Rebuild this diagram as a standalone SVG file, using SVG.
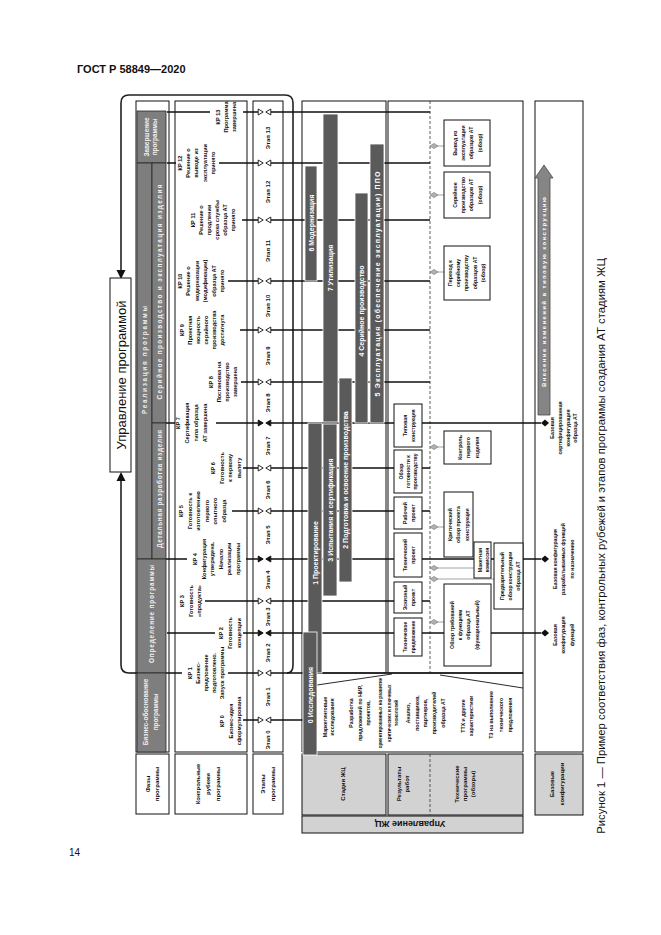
<svg xmlns="http://www.w3.org/2000/svg" width="661" height="935" viewBox="0 0 661 935">
<style>
text{font-family:"Liberation Sans",Arial,sans-serif;font-weight:bold;fill:#111}
.s{font-size:5.6px}
.t{font-size:5.2px}
.pt{fill:#f2f2f2;font-size:6.4px}
.bt{fill:#fff;font-size:7px}
.lb{font-size:6px}
.bx{fill:#fff;stroke:#111;stroke-width:1}
.gb{fill:#d2d2d2;stroke:#111;stroke-width:1}
.fr{fill:none;stroke:#111;stroke-width:1}
.bar{fill:#5a5a5a;stroke:#fff;stroke-width:0.8}
.pr{fill:#7e7e7e;stroke:#262626;stroke-width:0.8}
.kp{stroke:#111;stroke-width:1.7;fill:none}
.lp{stroke:#222;stroke-width:1.6;fill:none}
.ln{stroke:#8c8c8c;stroke-width:0.8;fill:none}
.ds{stroke:#333;stroke-width:0.8;stroke-dasharray:3 2;fill:none}
.to{fill:#fff;stroke:#111;stroke-width:0.9}
.tf{fill:#111;stroke:#111;stroke-width:0.9}
.dg{fill:#b0b0b0;stroke:#777;stroke-width:0.6}
.db{fill:#111}
</style>
<defs>
<path id="tR" d="M-2.3,-3 L2.7,0 L-2.3,3Z"/>
<path id="tL" d="M2.3,-3 L-2.7,0 L2.3,3Z"/>
<path id="dmg" d="M-4,0 L0,-2.6 L4,0 L0,2.6Z"/>
<path id="dmb" d="M-4,0 L0,-3.5 L4,0 L0,3.5Z"/>
</defs>
<rect width="661" height="935" fill="#fff"/>
<text x="77" y="73" style="font-size:11px">ГОСТ Р 58849—2020</text>
<text x="69" y="856" style="font-size:10px;font-weight:normal">14</text>
<text transform="translate(605,546) rotate(-90)" text-anchor="middle" style="font-size:11.3px;font-weight:normal">Рисунок 1 — Пример соответствия фаз, контрольных рубежей и этапов программы создания АТ стадиям ЖЦ</text>

<g id="frames">
<rect class="fr" x="136" y="101" width="33" height="651"/>
<rect class="fr" x="175" y="101" width="72" height="651"/>
<rect class="fr" x="253" y="101" width="30" height="651"/>
<rect class="fr" x="302" y="101" width="84" height="572"/>
<rect class="fr" x="388" y="101" width="135" height="572"/>
<path class="fr" d="M302 673 V752 H523 V673"/>
<rect class="fr" x="535" y="101" width="48" height="651"/>
<path class="ds" d="M430 101 V673 M430 754 V815"/>
<path fill="none" stroke="#111" stroke-width="0.9" d="M317 685 L392 674 M440 675 L523 688"/>
</g>

<g id="label-boxes">
<rect class="bx" x="136" y="754" width="33" height="60"/>
<text class="lb" transform="translate(150,784) rotate(-90)" text-anchor="middle"><tspan x="0">Фазы</tspan><tspan x="0" dy="9">программы</tspan></text>
<rect class="bx" x="175" y="754" width="72" height="60"/>
<text class="lb" transform="translate(200,784) rotate(-90)" text-anchor="middle"><tspan x="0">Контрольные</tspan><tspan x="0" dy="10">рубежи</tspan><tspan x="0" dy="10">программы</tspan></text>
<rect class="bx" x="253" y="754" width="30" height="60"/>
<text class="lb" transform="translate(265,784) rotate(-90)" text-anchor="middle"><tspan x="0">Этапы</tspan><tspan x="0" dy="9.5">программы</tspan></text>
<rect class="gb" x="302" y="754" width="84" height="61"/>
<text class="lb" transform="translate(345,784) rotate(-90)" text-anchor="middle">Стадии ЖЦ</text>
<rect class="gb" x="388" y="754" width="135" height="61"/>
<path class="ds" d="M430 754 V815"/>
<text class="lb" transform="translate(401,784) rotate(-90)" text-anchor="middle"><tspan x="0">Результаты</tspan><tspan x="0" dy="8">работ</tspan></text>
<text class="lb" transform="translate(459,784) rotate(-90)" text-anchor="middle"><tspan x="0">Технические</tspan><tspan x="0" dy="8">программы</tspan><tspan x="0" dy="8">(обзоры)</tspan></text>
<rect class="gb" x="302" y="816" width="221" height="17"/>
<text transform="translate(410,821) rotate(180)" text-anchor="middle" style="font-size:9px">Управление ЖЦ</text>
<rect class="gb" x="535" y="754" width="48" height="61"/>
<text class="lb" transform="translate(554,784) rotate(-90)" text-anchor="middle"><tspan x="0">Базовые</tspan><tspan x="0" dy="10">конфигурации</tspan></text>
</g>

<g id="connectors">
<path class="lp" d="M129 673 Q121 673 121 665 V480"/>
<path class="lp" d="M287 673 Q293 673 293 665 V103 Q293 95 285 95 H129 Q121 95 121 103 V270"/>
<polygon points="121,472 116.5,481 125.5,481" fill="#111"/>
<polygon points="121,279 116.5,270 125.5,270" fill="#111"/>
<path class="kp" d="M167 112H210 M243 112H258 M271 112H430"/>
<path class="kp" d="M167 163H176 M219 163H258 M271 163H430"/>
<path class="kp" d="M242 220H258 M271 220H430"/>
<path class="kp" d="M228 281H258 M271 281H430"/>
<path class="kp" d="M240 330H258 M271 330H430"/>
<path class="kp" d="M241 382H258 M271 382H430"/>
<path class="kp" d="M152 423H175 M216 423H258 M271 423H541"/>
<path class="kp" d="M243 468H258 M271 468H430"/>
<path class="kp" d="M232 511H258 M271 511H430"/>
<path class="kp" d="M137 559H187 M246 559H258 M271 559H541"/>
<path class="kp" d="M205 601H258 M271 601H430"/>
<path class="kp" d="M167 633H215 M243 633H258 M271 633H541"/>
<path class="kp" d="M129 673H182 M228 673H258 M271 673H523"/>
<path class="kp" d="M243 720H258 M271 720H304"/>
<path class="ln" d="M434 146H444 M434 195H444 M434 272H444 M434 447H444 M434 527H444 M434 568H474 M434 579H494 M434 622H444"/>
<g class="to">
<use href="#tR" x="260.5" y="112"/><use href="#tL" x="268.5" y="112"/>
<use href="#tR" x="260.5" y="163"/><use href="#tL" x="268.5" y="163"/>
<use href="#tR" x="260.5" y="220"/><use href="#tL" x="268.5" y="220"/>
<use href="#tR" x="260.5" y="281"/><use href="#tL" x="268.5" y="281"/>
<use href="#tR" x="260.5" y="330"/><use href="#tL" x="268.5" y="330"/>
<use href="#tR" x="260.5" y="382"/><use href="#tL" x="268.5" y="382"/>
<use href="#tR" x="260.5" y="468"/><use href="#tL" x="268.5" y="468"/>
<use href="#tR" x="260.5" y="511"/><use href="#tL" x="268.5" y="511"/>
<use href="#tR" x="260.5" y="601"/><use href="#tL" x="268.5" y="601"/>
<use href="#tR" x="260.5" y="673"/><use href="#tL" x="268.5" y="673"/>
<use href="#tR" x="260.5" y="720"/><use href="#tL" x="268.5" y="720"/>
</g>
<g class="tf">
<use href="#tR" x="260.5" y="423"/><use href="#tL" x="268.5" y="423"/>
<use href="#tR" x="260.5" y="559"/><use href="#tL" x="268.5" y="559"/>
<use href="#tR" x="260.5" y="633"/><use href="#tL" x="268.5" y="633"/>
</g>
<g class="dg">
<use href="#dmg" x="434" y="146"/><use href="#dmg" x="434" y="195"/><use href="#dmg" x="434" y="272"/>
<use href="#dmg" x="434" y="447"/><use href="#dmg" x="434" y="527"/><use href="#dmg" x="434" y="568"/>
<use href="#dmg" x="434" y="579"/><use href="#dmg" x="434" y="622"/>
</g>
<g class="db">
<use href="#dmb" x="545" y="423"/><use href="#dmb" x="545" y="559"/><use href="#dmb" x="545" y="633"/>
</g>
</g>

<g id="program-management">
<rect class="bx" x="110" y="278" width="21" height="194"/>
<text transform="translate(126,375) rotate(-90)" text-anchor="middle" style="font-size:13px;font-weight:normal">Управление программой</text>
</g>

<g id="phases">
<rect class="pr" x="137" y="111" width="29" height="52"/>
<text class="pt" transform="translate(149,137) rotate(-90)" text-anchor="middle"><tspan x="0">Завершение</tspan><tspan x="0" dy="8">программы</tspan></text>
<rect class="pr" x="137" y="163" width="15" height="396"/>
<text class="pt" transform="translate(147,360) rotate(-90)" text-anchor="middle" textLength="108" lengthAdjust="spacing">Реализация программы</text>
<rect class="pr" x="152" y="163" width="14" height="260"/>
<text class="pt" transform="translate(161.5,292) rotate(-90)" text-anchor="middle" textLength="215" lengthAdjust="spacing">Серийное производство и эксплуатация изделия</text>
<rect class="pr" x="152" y="423" width="14" height="136"/>
<text class="pt" transform="translate(161.5,489) rotate(-90)" text-anchor="middle" textLength="118" lengthAdjust="spacing">Детальная разработка изделия</text>
<rect class="pr" x="137" y="559" width="29" height="114"/>
<text class="pt" transform="translate(153.5,614) rotate(-90)" text-anchor="middle" textLength="98" lengthAdjust="spacing">Определение программы</text>
<rect class="pr" x="137" y="673" width="29" height="79"/>
<text class="pt" transform="translate(148,712) rotate(-90)" text-anchor="middle"><tspan x="0">Бизнес-обоснование</tspan><tspan x="0" dy="10">программы</tspan></text>
</g>

<g id="kp-labels" class="s">
<text transform="translate(220,117) rotate(-90)" text-anchor="middle"><tspan x="0">КР 13</tspan><tspan x="0" dy="8">Программа</tspan><tspan x="0" dy="8">завершена</tspan></text>
<text transform="translate(182,163) rotate(-90)" text-anchor="middle"><tspan x="0">КР 12</tspan><tspan x="0" dy="8.2">Решение о</tspan><tspan x="0" dy="8.2">выводе из</tspan><tspan x="0" dy="8.2">эксплуатации</tspan><tspan x="0" dy="8.2">принято</tspan></text>
<text transform="translate(195,220) rotate(-90)" text-anchor="middle"><tspan x="0">КР 11</tspan><tspan x="0" dy="8">Решение о</tspan><tspan x="0" dy="8">продлении</tspan><tspan x="0" dy="8">срока службы</tspan><tspan x="0" dy="8">образца АТ</tspan><tspan x="0" dy="8">принято</tspan></text>
<text transform="translate(182,281) rotate(-90)" text-anchor="middle"><tspan x="0">КР 10</tspan><tspan x="0" dy="8.4">Решение о</tspan><tspan x="0" dy="8.4">модернизации</tspan><tspan x="0" dy="8.4">(модификации)</tspan><tspan x="0" dy="8.4">образца АТ</tspan><tspan x="0" dy="8.4">принято</tspan></text>
<text transform="translate(184,330) rotate(-90)" text-anchor="middle"><tspan x="0">КР 9</tspan><tspan x="0" dy="8">Проектная</tspan><tspan x="0" dy="8">мощность</tspan><tspan x="0" dy="8">серийного</tspan><tspan x="0" dy="8">производства</tspan><tspan x="0" dy="8">достигнута</tspan></text>
<text transform="translate(213,382) rotate(-90)" text-anchor="middle"><tspan x="0">КР 8</tspan><tspan x="0" dy="8">Постановка на</tspan><tspan x="0" dy="8">производство</tspan><tspan x="0" dy="8">завершена</tspan></text>
<text transform="translate(180,423) rotate(-90)" text-anchor="middle"><tspan x="0">КР 7</tspan><tspan x="0" dy="9">Сертификация</tspan><tspan x="0" dy="9">типа образца</tspan><tspan x="0" dy="9">АТ завершена</tspan></text>
<text transform="translate(215,468) rotate(-90)" text-anchor="middle"><tspan x="0">КР 6</tspan><tspan x="0" dy="8.5">Готовность</tspan><tspan x="0" dy="8.5">к первому</tspan><tspan x="0" dy="8.5">вылету</tspan></text>
<text transform="translate(183,511) rotate(-90)" text-anchor="middle"><tspan x="0">КР 5</tspan><tspan x="0" dy="8.5">Готовность к</tspan><tspan x="0" dy="8.5">изготовлению</tspan><tspan x="0" dy="8.5">первого</tspan><tspan x="0" dy="8.5">опытного</tspan><tspan x="0" dy="8.5">образца</tspan></text>
<text transform="translate(197,559) rotate(-90)" text-anchor="middle"><tspan x="0">КР 4</tspan><tspan x="0" dy="8.6">Конфигурация</tspan><tspan x="0" dy="8.6">утверждена.</tspan><tspan x="0" dy="8.6">Начало</tspan><tspan x="0" dy="8.6">реализации</tspan><tspan x="0" dy="8.6">программы</tspan></text>
<text transform="translate(184,601) rotate(-90)" text-anchor="middle"><tspan x="0">КР 3</tspan><tspan x="0" dy="8.5">Готовность</tspan><tspan x="0" dy="8.5">«продукта»</tspan></text>
<text transform="translate(223,633) rotate(-90)" text-anchor="middle"><tspan x="0">КР 2</tspan><tspan x="0" dy="9">Готовность</tspan><tspan x="0" dy="9">концепции</tspan></text>
<text transform="translate(192,673) rotate(-90)" text-anchor="middle"><tspan x="0">КР 1</tspan><tspan x="0" dy="8">Бизнес-</tspan><tspan x="0" dy="8">предложение</tspan><tspan x="0" dy="8">подготовлено.</tspan><tspan x="0" dy="8">Запуск программы</tspan></text>
<text transform="translate(224,721) rotate(-90)" text-anchor="middle"><tspan x="0">КР 0</tspan><tspan x="0" dy="8.5">Бизнес-идея</tspan><tspan x="0" dy="8.5">сформулирована</tspan></text>
</g>

<g id="stages" class="lb" text-anchor="middle">
<text transform="translate(270,138) rotate(-90)">Этап 13</text>
<text transform="translate(270,192) rotate(-90)">Этап 12</text>
<text transform="translate(270,251) rotate(-90)">Этап 11</text>
<text transform="translate(270,306) rotate(-90)">Этап 10</text>
<text transform="translate(270,356) rotate(-90)">Этап 9</text>
<text transform="translate(270,403) rotate(-90)">Этап 8</text>
<text transform="translate(270,446) rotate(-90)">Этап 7</text>
<text transform="translate(270,490) rotate(-90)">Этап 6</text>
<text transform="translate(270,535) rotate(-90)">Этап 5</text>
<text transform="translate(270,580) rotate(-90)">Этап 4</text>
<text transform="translate(270,617) rotate(-90)">Этап 3</text>
<text transform="translate(270,653) rotate(-90)">Этап 2</text>
<text transform="translate(270,697) rotate(-90)">Этап 1</text>
<text transform="translate(270,740) rotate(-90)">Этап 0</text>
</g>

<g id="lifecycle-stages" text-anchor="middle">
<rect class="bar" x="308" y="423" width="14" height="250"/>
<text class="bt" transform="translate(317.5,553) rotate(-90)">1 Проектирование</text>
<rect class="bar" x="303" y="632" width="14" height="123"/>
<text class="bt" transform="translate(312.5,695) rotate(-90)">0 Исследования</text>
<rect class="bar" x="323" y="114" width="15" height="308"/>
<text class="bt" transform="translate(333,268) rotate(-90)">7 Утилизация</text>
<rect class="bar" x="323" y="424" width="14" height="172"/>
<text class="bt" transform="translate(332.5,510) rotate(-90)">3 Испытания и сертификация</text>
<rect class="bar" x="305" y="166" width="12" height="115"/>
<text class="bt" transform="translate(313.5,223) rotate(-90)">6 Модернизация</text>
<rect class="bar" x="339" y="378" width="13" height="204"/>
<text class="bt" transform="translate(348,480) rotate(-90)">2 Подготовка и освоение производства</text>
<rect class="bar" x="355" y="193" width="13" height="230"/>
<text class="bt" transform="translate(364,311) rotate(-90)">4 Серийное производство</text>
<rect class="bar" x="370" y="144" width="14" height="279"/>
<text class="bt" transform="translate(379.5,284) rotate(-90)" textLength="225" lengthAdjust="spacing">5 Эксплуатация (обеспечение эксплуатации) ППО</text>
</g>

<g id="concept-texts" class="t" text-anchor="middle">
<text transform="translate(327,717) rotate(-90)"><tspan x="0">Маркетинговые</tspan><tspan x="0" dy="6.5">исследования</tspan></text>
<text transform="translate(353,713) rotate(-90)"><tspan x="0">Разработка</tspan><tspan x="0" dy="8.5">предложений по НИР,</tspan><tspan x="0" dy="8.5">проектов,</tspan></text>
<text transform="translate(382,713) rotate(-90)" style="font-size:4.6px"><tspan x="0">ориентированных на развитие</tspan><tspan x="0" dy="8.5">критических и ключевых</tspan><tspan x="0" dy="7">технологий</tspan></text>
<text transform="translate(410,713) rotate(-90)"><tspan x="0">Анализ,</tspan><tspan x="0" dy="8.5">поставщиков,</tspan><tspan x="0" dy="8.5">партнеров,</tspan><tspan x="0" dy="9">производителей</tspan><tspan x="0" dy="8.5">образца АТ</tspan></text>
<text transform="translate(465,716) rotate(-90)"><tspan x="0">ТТХ и другие</tspan><tspan x="0" dy="7.5">характеристики</tspan></text>
<text transform="translate(493,715) rotate(-90)"><tspan x="0">ТЗ на выполнение</tspan><tspan x="0" dy="9.5">технического</tspan><tspan x="0" dy="9">предложения</tspan></text>
</g>

<g id="work-results" class="t" text-anchor="middle">
<rect class="bx" x="394" y="404" width="28" height="43"/>
<text transform="translate(407,425.5) rotate(-90)"><tspan x="0">Типовая</tspan><tspan x="0" dy="7.5">конструкция</tspan></text>
<rect class="bx" x="394" y="450" width="28" height="43"/>
<text transform="translate(403,471.5) rotate(-90)"><tspan x="0">Обзор</tspan><tspan x="0" dy="7">готовности к</tspan><tspan x="0" dy="7">производству</tspan></text>
<rect class="bx" x="394" y="497" width="28" height="32"/>
<text transform="translate(407,513) rotate(-90)"><tspan x="0">Рабочий</tspan><tspan x="0" dy="7.5">проект</tspan></text>
<rect class="bx" x="394" y="533" width="28" height="44"/>
<text transform="translate(407,555) rotate(-90)"><tspan x="0">Технический</tspan><tspan x="0" dy="7.5">проект</tspan></text>
<rect class="bx" x="394" y="582" width="28" height="31"/>
<text transform="translate(407,597.5) rotate(-90)"><tspan x="0">Эскизный</tspan><tspan x="0" dy="7.5">проект</tspan></text>
<rect class="bx" x="394" y="618" width="28" height="38"/>
<text transform="translate(407,637) rotate(-90)" style="font-size:4.9px"><tspan x="0">Техническое</tspan><tspan x="0" dy="7.5">предложение</tspan></text>
</g>

<g id="tech-programs" class="t" text-anchor="middle">
<rect class="bx" x="444" y="120" width="46" height="46"/>
<text transform="translate(457,143) rotate(-90)"><tspan x="0">Вывод из</tspan><tspan x="0" dy="8.2">эксплуатации</tspan><tspan x="0" dy="8.2">образцов АТ</tspan><tspan x="0" dy="8.2">(обзор)</tspan></text>
<rect class="bx" x="444" y="172" width="46" height="46"/>
<text transform="translate(457,195) rotate(-90)"><tspan x="0">Серийное</tspan><tspan x="0" dy="8.2">производство</tspan><tspan x="0" dy="8.2">образцов АТ</tspan><tspan x="0" dy="8.2">(обзор)</tspan></text>
<rect class="bx" x="444" y="246" width="46" height="54"/>
<text transform="translate(452,273) rotate(-90)"><tspan x="0">Переход к</tspan><tspan x="0" dy="8.2">серийному</tspan><tspan x="0" dy="8.2">производству</tspan><tspan x="0" dy="8.2">образцов АТ</tspan><tspan x="0" dy="8.2">(обзор)</tspan></text>
<rect class="bx" x="444" y="431" width="47" height="33"/>
<text transform="translate(462,447.5) rotate(-90)"><tspan x="0">Контроль</tspan><tspan x="0" dy="8.4">первого</tspan><tspan x="0" dy="8.4">изделия</tspan></text>
<rect class="bx" x="444" y="492" width="29" height="65"/>
<text transform="translate(452,524.5) rotate(-90)"><tspan x="0">Критический</tspan><tspan x="0" dy="8.4">обзор проекта</tspan><tspan x="0" dy="8.4">конструкции</tspan></text>
<rect class="bx" x="474" y="542" width="17" height="36"/>
<text transform="translate(482,560) rotate(-90)"><tspan x="0">Макетная</tspan><tspan x="0" dy="6.5">комиссия</tspan></text>
<rect class="bx" x="494" y="543" width="29" height="66"/>
<text transform="translate(504,576) rotate(-90)"><tspan x="0">Предварительный</tspan><tspan x="0" dy="8">обзор конструкции</tspan><tspan x="0" dy="8">образца АТ</tspan></text>
<rect class="bx" x="444" y="584" width="47" height="82"/>
<text transform="translate(454,625) rotate(-90)"><tspan x="0">Обзор требований</tspan><tspan x="0" dy="8.2">к функциям</tspan><tspan x="0" dy="8.2">образца АТ</tspan><tspan x="0" dy="8.2">(функциональный)</tspan></text>
</g>

<g id="base-configurations" class="t" text-anchor="middle">
<path d="M538 415 V178 H535 L544 165 L553 178 H550 V415 Z" fill="#858585" stroke="#4a4a4a" stroke-width="0.8"/>
<text transform="translate(546,292) rotate(-90)" style="fill:#fff;font-size:6px" textLength="190" lengthAdjust="spacing">Внесение изменений в типовую конструкцию</text>
<text transform="translate(554,428) rotate(-90)"><tspan x="0">Базовая</tspan><tspan x="0" dy="7.8">сертифицированная</tspan><tspan x="0" dy="7.8">конфигурация</tspan><tspan x="0" dy="7.8">образца АТ</tspan></text>
<text transform="translate(557,559) rotate(-90)"><tspan x="0">Базовая конфигурация</tspan><tspan x="0" dy="8.3">разрабатываемых функций</tspan><tspan x="0" dy="8.3">по назначению</tspan></text>
<text transform="translate(557,635) rotate(-90)"><tspan x="0">Базовая</tspan><tspan x="0" dy="8.3">конфигурация</tspan><tspan x="0" dy="8.3">функций</tspan></text>
</g>
</svg>
